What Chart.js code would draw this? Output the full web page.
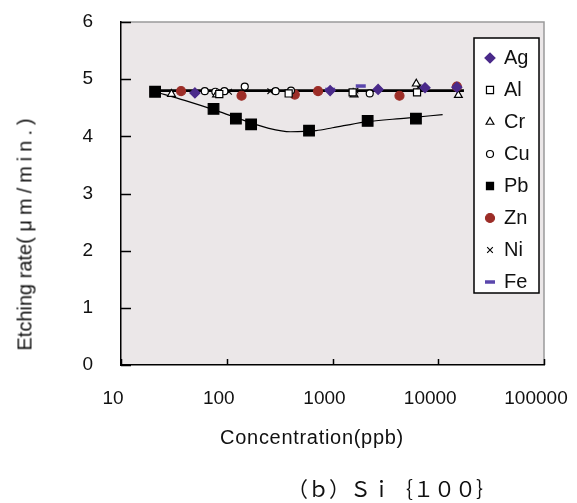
<!DOCTYPE html>
<html>
<head>
<meta charset="utf-8">
<script src="https://cdn.jsdelivr.net/npm/chart.js@4.4.1/dist/chart.umd.min.js"></script>
<style>
  html, body { margin: 0; padding: 0; background: #fff; }
  #wrap { position: relative; width: 577px; height: 503px; }
  #chart { position: absolute; left: 0; top: 0; }
  .lbl { position: absolute; color: #111; white-space: nowrap; font-family: 'Liberation Sans', Arial, sans-serif; }
  #xTitle { font-size: 20px; letter-spacing: 0.7px; left: 312px; top: 437px; transform: translate(-50%, -50%); }
  #yTitle { font-size: 20px; left: 25px; top: 232px; transform: translate(-50%, -50%) rotate(-90deg); }
  #yTitle .unit { letter-spacing: 5px; }
  #caption { font-family: 'Noto Sans CJK JP', monospace; font-size: 21px; left: 392px; top: 488px; transform: translate(-50%, -50%); }
</style>
</head>
<body>
<div id="wrap">
  <canvas id="chart" width="577" height="503"></canvas>
  <div class="lbl" id="yTitle">Etching rate( <span class="unit">μm/min.)</span></div>
  <div class="lbl" id="xTitle">Concentration(ppb)</div>
  <div class="lbl" id="caption">（ｂ）Ｓｉ｛１００｝</div>
</div>
<script>
// axis ticks
const xTicks = [10, 100, 1000, 10000, 100000];
const yTicks = [0, 1, 2, 3, 4, 5, 6];

// concentration (ppb) / etching rate (um/min) per metal
const agConc = [50, 950, 2700, 7500, 15000];
const agRate = [4.76, 4.80, 4.82, 4.85, 4.86];

const alConc = [85, 385, 1550, 6300];
const alRate = [4.74, 4.75, 4.77, 4.77];

const crConc = [30, 80, 1600, 6200, 15500];
const crRate = [4.74, 4.73, 4.73, 4.92, 4.72];

const cuConc = [62, 78, 95, 148, 290, 405, 2250];
const cuRate = [4.79, 4.78, 4.79, 4.87, 4.79, 4.80, 4.75];

const pbConc = [21, 75, 122, 170, 600, 2150, 6150];
const pbRate = [4.78, 4.48, 4.31, 4.21, 4.10, 4.27, 4.31];

const znConc = [37, 138, 440, 730, 4300, 15000];
const znRate = [4.79, 4.71, 4.73, 4.79, 4.71, 4.87];

const niConc = [105, 258, 1650, 6500];
const niRate = [4.78, 4.79, 4.80, 4.86];

const feConc = [950, 1850, 7200];
const feRate = [4.82, 4.88, 4.84];

// fitted curves
const flatConc = [21, 17500];
const flatRate = [4.80, 4.80];
const pbFitConc = [21, 40, 80, 150, 250, 400, 700, 1000, 2000, 5000, 11000];
const pbFitRate = [4.78, 4.63, 4.45, 4.27, 4.14, 4.08, 4.10, 4.15, 4.25, 4.32, 4.38];

const PURPLE = '#4a2a8a';
const FE_BLUE = '#5a46ac';
const ZN_RED = '#9c2d27';

const pts = (xs, ys) => xs.map((x, i) => ({ x: x, y: ys[i] }));

function series(label, xs, ys, style) {
  return Object.assign({
    label: label,
    data: pts(xs, ys),
    showLine: false,
    borderWidth: 1.2,
    pointRotation: 0
  }, style);
}

const metals = [
  series('Ag', agConc, agRate, { pointStyle: 'rectRot', pointRadius: 5, backgroundColor: PURPLE, borderColor: PURPLE }),
  series('Al', alConc, alRate, { pointStyle: 'rect', pointRadius: 5, backgroundColor: '#fff', borderColor: '#000' }),
  series('Cr', crConc, crRate, { pointStyle: 'triangle', pointRadius: 4.5, backgroundColor: '#fff', borderColor: '#000' }),
  series('Cu', cuConc, cuRate, { pointStyle: 'circle', pointRadius: 3.5, backgroundColor: '#fff', borderColor: '#000' }),
  series('Pb', pbConc, pbRate, { pointStyle: 'rect', pointRadius: 7.5, backgroundColor: '#000', borderColor: '#000' }),
  series('Zn', znConc, znRate, { pointStyle: 'circle', pointRadius: 4.5, backgroundColor: ZN_RED, borderColor: ZN_RED }),
  series('Ni', niConc, niRate, { pointStyle: 'crossRot', pointRadius: 4, borderWidth: 1.1, backgroundColor: '#000', borderColor: '#000' }),
  series('Fe', feConc, feRate, { pointStyle: 'line', pointRadius: 5, borderWidth: 3.5, backgroundColor: FE_BLUE, borderColor: FE_BLUE })
];

const fits = [
  { label: 'fit', data: pts(flatConc, flatRate), showLine: true, pointRadius: 0, borderColor: '#000', borderWidth: 2.8 },
  { label: 'fit Pb', data: pts(pbFitConc, pbFitRate), showLine: true, pointRadius: 0, borderColor: '#000', borderWidth: 1.2, cubicInterpolationMode: 'monotone' }
];

// grey plot area, grey top/right frame, ticks pointing inwards
const framePlugin = {
  id: 'frame',
  beforeDraw(chart) {
    const { ctx, chartArea: a } = chart;
    ctx.save();
    ctx.fillStyle = '#ebe7e8';
    ctx.fillRect(a.left, a.top, a.right - a.left, a.bottom - a.top);
    ctx.strokeStyle = '#9a9a9a';
    ctx.lineWidth = 1.5;
    ctx.beginPath();
    ctx.moveTo(a.left, a.top);
    ctx.lineTo(a.right, a.top);
    ctx.lineTo(a.right, a.bottom);
    ctx.stroke();
    ctx.restore();
  },
  afterDraw(chart) {
    const { ctx, chartArea: a, scales } = chart;
    ctx.save();
    ctx.strokeStyle = '#000';
    ctx.lineWidth = 1.5;
    ctx.beginPath();
    yTicks.forEach(v => {
      const y = Math.round(scales.y.getPixelForValue(v)) + 0.5;
      ctx.moveTo(a.left, y);
      ctx.lineTo(a.left + 10, y);
    });
    xTicks.forEach(v => {
      const x = Math.round(scales.x.getPixelForValue(v)) + 0.5;
      ctx.moveTo(x, a.bottom);
      ctx.lineTo(x, a.bottom - 6);
    });
    ctx.stroke();
    ctx.restore();
  }
};

// boxed legend inside the plot, upper right
const legendPlugin = {
  id: 'boxLegend',
  afterDraw(chart) {
    const { ctx, chartArea: a } = chart;
    const right = a.right - 5, left = right - 65;
    const top = a.top + 16, rowH = 32;
    const bottom = top + rowH * metals.length - 1;
    ctx.save();
    ctx.fillStyle = '#fff';
    ctx.fillRect(left, top, right - left, bottom - top);
    ctx.strokeStyle = '#000';
    ctx.lineWidth = 1.5;
    ctx.strokeRect(left, top, right - left, bottom - top);
    ctx.font = '20px "Liberation Sans", Arial, sans-serif';
    ctx.textBaseline = 'middle';
    metals.forEach((ds, i) => {
      const y = top + 20 + i * rowH;
      ctx.fillStyle = ds.backgroundColor;
      ctx.strokeStyle = ds.borderColor;
      ctx.lineWidth = ds.borderWidth;
      Chart.helpers.drawPoint(ctx, {
        pointStyle: ds.pointStyle,
        radius: Math.min(ds.pointRadius, 5),
        rotation: 0,
        borderWidth: ds.borderWidth
      }, left + 16, y);
      ctx.fillStyle = '#111';
      ctx.fillText(ds.label, left + 30, y);
    });
    ctx.restore();
  }
};

const tickFont = { family: "'Liberation Sans', Arial, sans-serif", size: 19 };

new Chart(document.getElementById('chart'), {
  type: 'scatter',
  data: { datasets: metals.concat(fits) },
  options: {
    responsive: false,
    animation: false,
    devicePixelRatio: 1,
    layout: { padding: { left: 0, top: 22, right: 33, bottom: 0 } },
    plugins: {
      legend: { display: false },
      tooltip: { enabled: false }
    },
    scales: {
      x: {
        type: 'logarithmic',
        min: 10,
        max: 100000,
        afterFit: s => { s.height = 138; s.paddingLeft = 0; s.paddingRight = 0; },
        afterBuildTicks: s => { s.ticks = xTicks.map(v => ({ value: v })); },
        ticks: {
          autoSkip: false,
          maxRotation: 0,
          padding: 22,
          labelOffset: -8,
          color: '#111',
          font: tickFont,
          callback: v => String(v)
        },
        grid: { display: false, drawTicks: false },
        border: { color: '#000', width: 1.5 }
      },
      y: {
        min: 0,
        max: 6,
        afterFit: s => { s.width = 121; s.paddingTop = 0; s.paddingBottom = 0; },
        afterBuildTicks: s => { s.ticks = yTicks.map(v => ({ value: v })); },
        ticks: { padding: 28, color: '#111', font: tickFont },
        grid: { display: false, drawTicks: false },
        border: { color: '#000', width: 1.5 }
      }
    }
  },
  plugins: [framePlugin, legendPlugin]
});
</script>
</body>
</html>
